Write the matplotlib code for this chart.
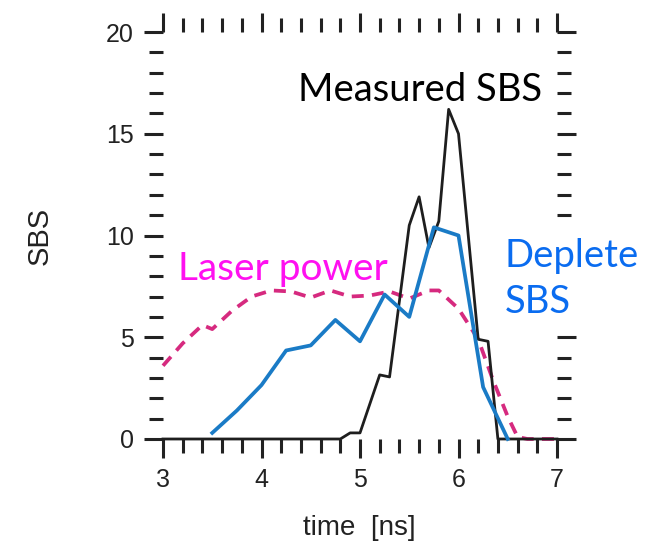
import numpy as np
import matplotlib.pyplot as plt
from matplotlib.ticker import MultipleLocator

# --- measured SBS (black), depleted SBS (blue), laser power (pink dashed)
t_meas = [3.0, 4.8, 4.9, 5.0, 5.2, 5.3, 5.5, 5.6, 5.7, 5.8, 5.9, 6.0, 6.2, 6.3, 6.4, 7.0]
sbs_meas = [0.0, 0.0, 0.3, 0.3, 3.15, 3.05, 10.5, 11.9, 9.4, 10.7, 16.2, 15.0, 4.9, 4.8, 0.0, 0.0]

t_dep = [3.5, 3.75, 4.0, 4.25, 4.5, 4.75, 5.0, 5.25, 5.5, 5.75, 6.0, 6.25, 6.5]
sbs_dep = [0.3, 1.4, 2.65, 4.35, 4.6, 5.85, 4.8, 7.1, 6.0, 10.4, 10.0, 2.55, 0.0]

t_las = [3.0, 3.2, 3.4, 3.5, 3.7, 3.9, 4.1, 4.3, 4.5, 4.7, 4.9, 5.1, 5.3, 5.5, 5.7, 5.8,
         5.9, 6.0, 6.2, 6.35, 6.5, 6.6, 6.7, 7.0]
p_las = [3.6, 4.7, 5.6, 5.4, 6.3, 7.0, 7.3, 7.25, 6.95, 7.3, 7.0, 7.05, 7.25, 6.9, 7.3, 7.3,
         6.85, 6.4, 4.9, 2.9, 1.1, 0.1, 0.0, 0.0]

xticks = [3, 4, 5, 6, 7]
yticks = [0, 5, 10, 15, 20]

W, H = 666, 544
fig = plt.figure(figsize=(W / 100, H / 100), dpi=100)
ax = fig.add_axes([163 / W, 1 - 439 / H, (557 - 163) / W, (439 - 32) / H])

ax.plot(t_las, p_las, color='#d62a7f', lw=2.7, dashes=(3.2, 2.2), clip_on=False, zorder=2)
ax.plot(t_meas, sbs_meas, color='#1e1e1e', lw=2.0, clip_on=False, zorder=3)
ax.plot(t_dep, sbs_dep, color='#1a7bc6', lw=2.7, clip_on=False, zorder=4)

ax.set_xlim(3, 7)
ax.set_ylim(0, 20)
ax.set_xticks(xticks)
ax.set_yticks(yticks)
ax.xaxis.set_minor_locator(MultipleLocator(0.2))
ax.yaxis.set_minor_locator(MultipleLocator(1))
for s in ax.spines.values():
    s.set_visible(False)
ax.tick_params(which='both', direction='out', top=True, right=True, color='#222222',
               width=2.2, labelsize=18, labelcolor='#222222', pad=7)
ax.tick_params(which='major', length=14)
ax.tick_params(which='minor', length=10)
for lab in ax.get_xticklabels() + ax.get_yticklabels():
    lab.set_family('Liberation Sans')

fig.text(40 / W, 1 - 236 / H, 'SBS', rotation=90, ha='center', va='center',
         fontsize=21, family='Liberation Sans', color='#222222')
fig.text(359 / W, 1 - 528 / H, 'time  [ns]', ha='center', va='center',
         fontsize=20, family='Liberation Sans', color='#222222')

# annotations
fig.text(298 / W, 1 - 101 / H, 'Measured SBS', ha='left', va='baseline',
         fontsize=27.5, family='Lato', color='black')
fig.text(178 / W, 1 - 280 / H, 'Laser power', ha='left', va='baseline',
         fontsize=28, family='Lato', color='#ff10f0')
fig.text(505 / W, 1 - 313 / H, 'Deplete\nSBS', ha='left', va='baseline',
         fontsize=27.5, family='Lato', color='#0a6cf0', linespacing=1.35,
         bbox=dict(facecolor='white', edgecolor='none', pad=6))

fig.savefig('out.png', dpi=100)
